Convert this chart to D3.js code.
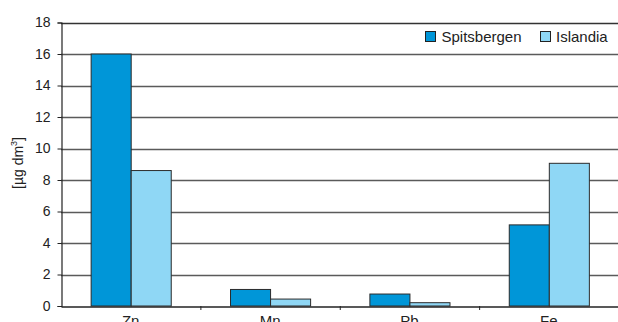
<!DOCTYPE html>
<html>
<head>
<meta charset="utf-8">
<script src="https://cdn.jsdelivr.net/npm/d3@7"></script>
<style>
  html, body { margin: 0; padding: 0; background: #fff; }
  svg { display: block; font-family: "Liberation Sans", Arial, sans-serif; }
</style>
</head>
<body>
<svg id="chart" width="618" height="322"></svg>
<script>
const categories = ["Zn", "Mn", "Pb", "Fe"];
const seriesNames = ["Spitsbergen", "Islandia"];
const spitsbergen = [16.0, 1.05, 0.76, 5.15];
const islandia = [8.6, 0.44, 0.21, 9.06];
const yTicks = [0, 2, 4, 6, 8, 10, 12, 14, 16, 18];
const colors = ["#0096d8", "#8fd7f5"];

const svg = d3.select("#chart");
const x0 = 61, x1 = 618.5, yTop = 22.5, yBottom = 306;

const x = d3.scaleBand().domain(categories).range([x0, x1]).paddingInner(0).paddingOuter(0);
const xs = d3.scaleBand().domain(seriesNames).range([0, x.bandwidth()]).paddingInner(0).paddingOuter(0.74);
const y = d3.scaleLinear().domain([0, 18]).range([yBottom, yTop]);

// gridlines
svg.append("g")
  .selectAll("line")
  .data(yTicks.filter(d => d > 0))
  .join("line")
  .attr("x1", x0).attr("x2", 618)
  .attr("y1", d => Math.round(y(d)) + 0.5).attr("y2", d => Math.round(y(d)) + 0.5)
  .attr("stroke", d => d === 18 ? "#333" : "#5a5a5a")
  .attr("stroke-width", 1.3);

// bars
const data = categories.map((c, i) => ({ cat: c, vals: [spitsbergen[i], islandia[i]] }));
const groups = svg.append("g").selectAll("g").data(data).join("g")
  .attr("transform", d => `translate(${x(d.cat)},0)`);
groups.selectAll("rect")
  .data(d => d.vals.map((v, j) => ({ name: seriesNames[j], v, j })))
  .join("rect")
  .attr("x", d => xs(d.name) + 0.5)
  .attr("width", xs.bandwidth())
  .attr("y", d => y(d.v))
  .attr("height", d => yBottom - y(d.v))
  .attr("fill", d => colors[d.j])
  .attr("stroke", "#2b2b2b")
  .attr("stroke-width", 1);

// y axis
const yAxis = d3.axisLeft(y).tickValues(yTicks).tickSize(4).tickPadding(7).tickFormat(d3.format("d"));
const gy = svg.append("g").attr("transform", `translate(${x0 + 0.5},0)`).call(yAxis);
gy.select(".domain").attr("stroke", "#222").attr("stroke-width", 1.2);
gy.selectAll(".tick line").attr("stroke", "#222");
gy.selectAll(".tick text").attr("font-size", 14).attr("fill", "#222")
  .attr("font-family", "Liberation Sans, Arial, sans-serif");

// x axis
const xAxis = d3.axisBottom(x).tickSize(0).tickPadding(9);
const gx = svg.append("g").attr("transform", `translate(0,${yBottom + 0.5})`).call(xAxis);
gx.select(".domain").attr("stroke", "#222").attr("stroke-width", 1.3);
gx.selectAll(".tick text").attr("font-size", 15).attr("fill", "#222")
  .attr("font-family", "Liberation Sans, Arial, sans-serif");
// category separator ticks
svg.append("g").selectAll("line")
  .data(categories.slice(1))
  .join("line")
  .attr("x1", d => x(d) + 0.5).attr("x2", d => x(d) + 0.5)
  .attr("y1", yBottom).attr("y2", yBottom + 4)
  .attr("stroke", "#222");

// y title
const yt = svg.append("text")
  .attr("transform", `translate(23,163) rotate(-90)`)
  .attr("text-anchor", "middle")
  .attr("font-size", 14)
  .attr("fill", "#222");
yt.append("tspan").text("[µg dm");
yt.append("tspan").attr("font-size", 9).attr("dy", -6).text("3");
yt.append("tspan").attr("dy", 6).text("]");

// legend
const legendItems = [
  { name: seriesNames[0], color: colors[0], sx: 425.5, tx: 441.5 },
  { name: seriesNames[1], color: colors[1], sx: 540.5, tx: 556 }
];
const lg = svg.append("g");
lg.selectAll("rect").data(legendItems).join("rect")
  .attr("x", d => d.sx).attr("y", 31.5).attr("width", 10).attr("height", 10)
  .attr("fill", d => d.color).attr("stroke", "#222").attr("stroke-width", 1);
lg.selectAll("text").data(legendItems).join("text")
  .attr("x", d => d.tx).attr("y", 42)
  .attr("font-size", 15).attr("fill", "#222")
  .text(d => d.name);
</script>
</body>
</html>
